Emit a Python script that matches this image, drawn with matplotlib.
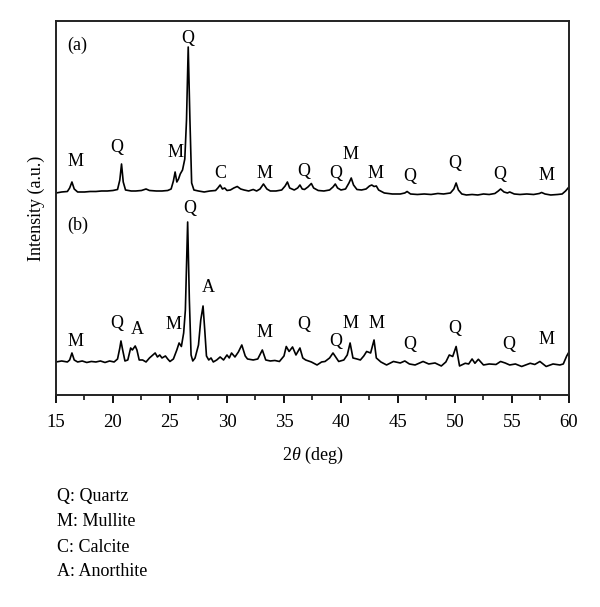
import matplotlib
matplotlib.use("Agg")
import matplotlib.pyplot as plt
from matplotlib.ticker import MultipleLocator

plt.rcParams["font.family"] = ["Liberation Serif", "DejaVu Serif"]
plt.rcParams["mathtext.fontset"] = "custom"
plt.rcParams["mathtext.rm"] = "Liberation Serif"
plt.rcParams["mathtext.it"] = "Liberation Serif:italic"

# pattern (a): 2theta (deg) and intensity above its own baseline (a.u.)
two_theta_a = [
    15.0, 15.5, 16.0, 16.2, 16.4, 16.6, 16.9, 17.5, 18.0, 18.5, 19.0, 19.5,
    20.0, 20.4, 20.6, 20.75, 20.9, 21.1, 21.6, 22.0, 22.5, 22.9, 23.2, 23.8,
    24.3, 24.8, 25.1, 25.3, 25.45, 25.6, 25.75, 25.9, 26.1, 26.3, 26.45, 26.6,
    26.75, 26.9, 27.1, 27.5, 28.0, 28.5, 29.0, 29.2, 29.4, 29.6, 29.8, 30.0,
    30.3, 30.6, 30.9, 31.2, 31.5, 31.9, 32.3, 32.6, 32.9, 33.2, 33.5, 33.8,
    34.3, 34.8, 35.1, 35.3, 35.5, 35.9, 36.2, 36.4, 36.6, 36.8, 37.1, 37.4,
    37.6, 38.0, 38.5, 39.0, 39.3, 39.5, 39.7, 40.0, 40.4, 40.7, 40.9, 41.1,
    41.4, 41.8, 42.2, 42.5, 42.7, 42.9, 43.1, 43.3, 43.8, 44.5, 45.2, 45.6,
    45.8, 46.1, 46.7, 47.3, 47.9, 48.5, 49.0, 49.6, 49.9, 50.1, 50.3, 50.6,
    51.0, 51.5, 52.0, 52.5, 53.0, 53.5, 53.8, 54.0, 54.3, 54.6, 54.8, 55.2,
    55.7, 56.3, 56.9, 57.4, 57.6, 57.9, 58.4, 59.0, 59.4, 59.7, 60.0,
]
intensity_a = [
    2, 3, 3.5, 7, 13, 6, 3, 3, 3.5, 3.5, 4, 4,
    4.5, 5.5, 15, 31, 13, 5, 4, 4, 4.5, 6, 4.5, 4,
    4, 4.5, 6, 14, 23, 13, 16, 21, 25, 36, 75, 148,
    75, 12, 5, 4, 3, 4, 4.5, 7, 10, 6, 7, 4.5,
    5, 7, 8.5, 6, 5, 4, 5.5, 4, 6, 11, 6, 4,
    4, 5, 9, 13, 7, 5, 7, 10, 6, 5.5, 8, 11.5,
    7, 4.5, 4, 5, 8, 11, 7, 5, 6, 12, 17, 10,
    5.5, 5, 6, 9, 10, 8.5, 9, 5, 2, 1, 1, 2,
    3.5, 1, 0.5, 1, 0.5, 1.5, 1, 2, 6, 12, 5, 1,
    0, 0.5, 0, 1, 0.5, 1.5, 4, 6, 3, 2, 3, 1,
    0.5, 1, 0.5, 1.5, 2.5, 1, 0, 0.5, 1, 4, 8,
]

# pattern (b)
two_theta_b = [
    15.0, 15.5, 16.0, 16.2, 16.4, 16.6, 16.9, 17.3, 17.7, 18.1, 18.5, 18.9,
    19.3, 19.7, 20.1, 20.4, 20.6, 20.7, 20.85, 21.05, 21.3, 21.55, 21.7, 21.95,
    22.1, 22.3, 22.6, 22.9, 23.2, 23.5, 23.7, 23.9, 24.1, 24.3, 24.6, 24.8,
    25.0, 25.3, 25.6, 25.8, 26.0, 26.2, 26.35, 26.55, 26.7, 26.85, 27.0, 27.2,
    27.5, 27.7, 27.9, 28.05, 28.2, 28.4, 28.6, 28.8, 29.1, 29.4, 29.7, 30.0,
    30.2, 30.4, 30.7, 31.0, 31.3, 31.6, 31.8, 32.3, 32.7, 33.1, 33.4, 33.8,
    34.2, 34.6, 35.0, 35.2, 35.45, 35.75, 36.05, 36.4, 36.65, 36.9, 37.4, 37.9,
    38.3, 38.6, 39.0, 39.3, 39.6, 39.8, 40.25, 40.55, 40.8, 41.05, 41.4, 41.7,
    42.0, 42.25, 42.6, 42.9, 43.1, 43.5, 44.0, 44.6, 45.2, 45.6, 46.0, 46.5,
    46.9, 47.2, 47.7, 48.25, 48.8, 49.2, 49.5, 49.8, 50.1, 50.4, 50.9, 51.2,
    51.5, 51.75, 52.05, 52.5, 53.0, 53.6, 54.0, 54.4, 54.8, 55.3, 55.85, 56.2,
    56.6, 57.0, 57.45, 58.0, 58.6, 59.2, 59.5, 59.8, 60.0,
]
intensity_b = [
    3, 4, 3, 5, 12, 5, 3, 4, 2.5, 3.5, 3, 4,
    2.5, 4, 3, 6, 17, 24, 15, 4, 5, 17, 15, 19,
    15, 5, 5, 3, 7, 10, 12, 8, 10, 7, 9, 6,
    3.5, 6, 15, 22, 18.5, 32, 55, 143, 65, 10, 4, 7,
    20, 45, 59, 35, 9, 5, 7, 3, 5, 8, 5, 10,
    7, 12, 8, 13, 20, 9, 6, 5, 6, 15, 5, 4,
    4.5, 3.5, 9, 18.5, 13.5, 18, 10, 17, 7, 5, 3, 0,
    3, 3.5, 7, 12, 7, 3.5, 5, 10, 22, 7, 6, 5,
    9, 13.5, 12, 25, 7, 3, 0, 3.5, 2, 4, 1, 0,
    2, 3.5, 1, 2, -1, 3, 10, 8.5, 18.5, -1, 1.7, 1,
    6, 1.7, 5.7, 0, 1, 0.5, 3.5, 2, 0, 1, -1.5, 0,
    1.7, 0.5, 3.5, -1.5, 1, 0, 1, 9, 13,
]

offset_a = 200
offset_b = 30

# phase labels: (symbol, 2theta, height in plot units)
labels_a = [
    ("M", 16.75, 233), ("Q", 20.3, 247), ("M", 25.5, 242), ("Q", 26.6, 357),
    ("C", 29.45, 221), ("M", 33.25, 221), ("Q", 36.75, 223), ("Q", 39.5, 221),
    ("M", 40.85, 240), ("M", 43.07, 221), ("Q", 46.0, 218), ("Q", 50.0, 231),
    ("Q", 53.9, 220), ("M", 58.0, 219),
]
labels_b = [
    ("M", 16.75, 53), ("Q", 20.3, 71), ("A", 22.1, 65), ("M", 25.35, 70),
    ("Q", 26.75, 186), ("A", 28.35, 107), ("M", 33.25, 62), ("Q", 36.7, 70),
    ("Q", 39.5, 53), ("M", 40.85, 71), ("M", 43.1, 71), ("Q", 46.0, 50),
    ("Q", 49.95, 66), ("Q", 54.75, 50), ("M", 58.0, 55),
]

phase_key = ["Q: Quartz", "M: Mullite", "C: Calcite", "A: Anorthite"]

fig = plt.figure(figsize=(6.0, 6.07), dpi=100)
ax = fig.add_axes([0.0933, 0.3493, 0.8550, 0.6161])

ax.plot(two_theta_a, [v + offset_a for v in intensity_a], color="black", lw=1.2)
ax.plot(two_theta_b, [v + offset_b for v in intensity_b], color="black", lw=1.2)

for sym, x, y in labels_a + labels_b:
    ax.text(x, y, sym, ha="center", va="center", fontsize=13)

ax.text(0.021, 0.936, "(a)", transform=ax.transAxes, fontsize=13, va="center")
ax.text(0.021, 0.4545, "(b)", transform=ax.transAxes, fontsize=13, va="center")

ax.set_xlim(15, 60)
ax.set_ylim(0, 374)
ax.xaxis.set_major_locator(MultipleLocator(5))
ax.xaxis.set_minor_locator(MultipleLocator(2.5))
ax.tick_params(axis="x", which="major", direction="out", length=6, width=1.3,
               labelsize=13.5, pad=8)
ax.tick_params(axis="x", which="minor", direction="out", length=3.5, width=1.1)
ax.set_yticks([])
for sp in ax.spines.values():
    sp.set_linewidth(1.4)
    sp.set_color("#222222")

ax.set_xlabel("2$\\it{\\theta}$ (deg)", fontsize=13, labelpad=10)
ax.set_ylabel("Intensity (a.u.)", fontsize=13, labelpad=8)

for i, line in enumerate(phase_key):
    fig.text(0.095, 1 - (497 + 25 * i) / 607, line, fontsize=13, va="center")

fig.savefig("out.png", dpi=100)
